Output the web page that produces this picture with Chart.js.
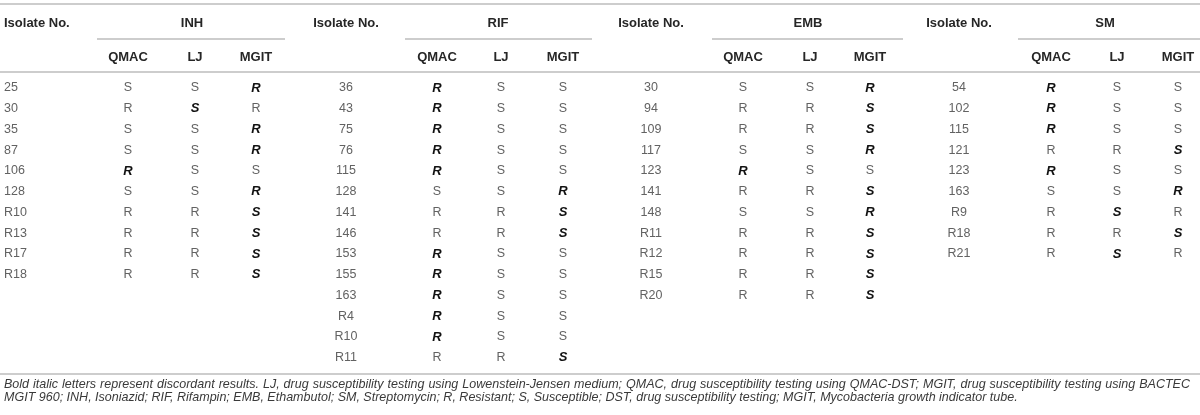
<!DOCTYPE html>
<html>
<head>
<meta charset="utf-8">
<title>Discordant DST results</title>
<script src="https://cdn.jsdelivr.net/npm/chart.js@4.4.1/dist/chart.umd.min.js"></script>
<style>
  html, body { margin: 0; padding: 0; background: #fff; }
  canvas { display: block; }
</style>
</head>
<body>
<canvas id="tbl" width="1200" height="415"></canvas>
<script>
// table values; a trailing * marks a discordant result (bold italic)
const drugs = ['INH', 'RIF', 'EMB', 'SM'];
const methods = ['QMAC', 'LJ', 'MGIT'];

const inhIsolates = ['25', '30', '35', '87', '106', '128', 'R10', 'R13', 'R17', 'R18'];
const inhQMAC = ['S', 'R', 'S', 'S', 'R*', 'S', 'R', 'R', 'R', 'R'];
const inhLJ   = ['S', 'S*', 'S', 'S', 'S', 'S', 'R', 'R', 'R', 'R'];
const inhMGIT = ['R*', 'R', 'R*', 'R*', 'S', 'R*', 'S*', 'S*', 'S*', 'S*'];

const rifIsolates = ['36', '43', '75', '76', '115', '128', '141', '146', '153', '155', '163', 'R4', 'R10', 'R11'];
const rifQMAC = ['R*', 'R*', 'R*', 'R*', 'R*', 'S', 'R', 'R', 'R*', 'R*', 'R*', 'R*', 'R*', 'R'];
const rifLJ   = ['S', 'S', 'S', 'S', 'S', 'S', 'R', 'R', 'S', 'S', 'S', 'S', 'S', 'R'];
const rifMGIT = ['S', 'S', 'S', 'S', 'S', 'R*', 'S*', 'S*', 'S', 'S', 'S', 'S', 'S', 'S*'];

const embIsolates = ['30', '94', '109', '117', '123', '141', '148', 'R11', 'R12', 'R15', 'R20'];
const embQMAC = ['S', 'R', 'R', 'S', 'R*', 'R', 'S', 'R', 'R', 'R', 'R'];
const embLJ   = ['S', 'R', 'R', 'S', 'S', 'R', 'S', 'R', 'R', 'R', 'R'];
const embMGIT = ['R*', 'S*', 'S*', 'R*', 'S', 'S*', 'R*', 'S*', 'S*', 'S*', 'S*'];

const smIsolates = ['54', '102', '115', '121', '123', '163', 'R9', 'R18', 'R21'];
const smQMAC = ['R*', 'R*', 'R*', 'R', 'R*', 'S', 'R', 'R', 'R'];
const smLJ   = ['S', 'S', 'S', 'R', 'S', 'S', 'S*', 'R', 'S*'];
const smMGIT = ['S', 'S', 'S', 'S*', 'S', 'R*', 'R', 'S*', 'R'];

const footnote = [
  'Bold italic letters represent discordant results. LJ, drug susceptibility testing using Lowenstein-Jensen medium; QMAC, drug susceptibility testing using QMAC-DST; MGIT, drug susceptibility testing using BACTEC',
  'MGIT 960; INH, Isoniazid; RIF, Rifampin; EMB, Ethambutol; SM, Streptomycin; R, Resistant; S, Susceptible; DST, drug susceptibility testing; MGIT, Mycobacteria growth indicator tube.'
];

// layout (pixels)
const W = 1200, H = 415;
const ROW0 = 88, ROW_H = 20.75;
const isoX = [4, 346, 651, 959];
const testX = [[128, 195, 256], [437, 501, 563], [743, 810, 870], [1051, 1117, 1178]];
const groupX = [192, 498, 808, 1105];
const lineSpan = [[97, 285], [405, 592], [712, 903], [1018, 1200]];
const HEAD1_Y = 23, HEAD2_Y = 57, SPAN_Y = 39;
const RULES_Y = [4, 72, 374];
const NOTE_Y = [385, 398];
const NOTE_X = 4, NOTE_END = 1190, NOTE2_END = 1018;
const FONT = '"Liberation Sans", Arial, Helvetica, sans-serif';

const rowOf = px => (px - ROW0) / ROW_H;

const groups = [
  [inhIsolates, inhQMAC, inhLJ, inhMGIT],
  [rifIsolates, rifQMAC, rifLJ, rifMGIT],
  [embIsolates, embQMAC, embLJ, embMGIT],
  [smIsolates, smQMAC, smLJ, smMGIT]
];

function col(values, x, kind, align) {
  return {
    data: values.map((v, i) => ({ x, y: i })),
    labels: values, kind, align: align || 'center',
    pointRadius: 0, pointHoverRadius: 0, showLine: false
  };
}

const datasets = [];
groups.forEach((g, gi) => {
  const align = gi === 0 ? 'left' : 'center';
  datasets.push(col(g[0], isoX[gi], 'cell', align));
  for (let m = 0; m < 3; m++) datasets.push(col(g[m + 1], testX[gi][m], 'cell'));
  // header cells, placed on the same scales
  datasets.push({ data: [{ x: isoX[gi], y: rowOf(HEAD1_Y) }], labels: ['Isolate No.'], kind: 'head', align, pointRadius: 0 });
  datasets.push({ data: [{ x: groupX[gi], y: rowOf(HEAD1_Y) }], labels: [drugs[gi]], kind: 'head', align: 'center', pointRadius: 0 });
  datasets.push({
    data: methods.map((m, k) => ({ x: testX[gi][k], y: rowOf(HEAD2_Y) })),
    labels: methods, kind: 'head', align: 'center', pointRadius: 0
  });
});

// draw a line of text stretched (word spacing) to end at x1
function justify(ctx, text, x0, x1, y) {
  const words = text.split(' ');
  const total = words.reduce((a, w) => a + ctx.measureText(w).width, 0);
  const gap = (x1 - x0 - total) / (words.length - 1);
  let x = x0;
  words.forEach(w => { ctx.fillText(w, x, y); x += ctx.measureText(w).width + gap; });
}

const tablePlugin = {
  id: 'tableText',
  beforeDatasetsDraw(chart) {
    const ctx = chart.ctx, xs = chart.scales.x, ys = chart.scales.y;
    ctx.save();
    ctx.strokeStyle = '#bdbdbd';
    ctx.lineWidth = 1.3;
    RULES_Y.forEach(py => {
      const y = ys.getPixelForValue(rowOf(py));
      ctx.beginPath(); ctx.moveTo(xs.getPixelForValue(0), y); ctx.lineTo(xs.getPixelForValue(W), y); ctx.stroke();
    });
    lineSpan.forEach(s => {
      const y = ys.getPixelForValue(rowOf(SPAN_Y));
      ctx.beginPath(); ctx.moveTo(xs.getPixelForValue(s[0]), y); ctx.lineTo(xs.getPixelForValue(s[1]), y); ctx.stroke();
    });
    ctx.restore();
  },
  afterDatasetsDraw(chart) {
    const ctx = chart.ctx, xs = chart.scales.x, ys = chart.scales.y;
    ctx.save();
    ctx.textBaseline = 'middle';
    chart.data.datasets.forEach((ds, i) => {
      const meta = chart.getDatasetMeta(i);
      ctx.textAlign = ds.align;
      meta.data.forEach((pt, j) => {
        let txt = ds.labels[j];
        if (ds.kind === 'head') {
          ctx.font = 'bold 13px ' + FONT;
          ctx.fillStyle = '#262626';
        } else if (txt.endsWith('*')) {
          txt = txt.slice(0, -1);
          ctx.font = 'italic bold 13px ' + FONT;
          ctx.fillStyle = '#111';
        } else {
          ctx.font = '12.5px ' + FONT;
          ctx.fillStyle = '#626262';
        }
        ctx.fillText(txt, pt.x, pt.y);
      });
    });
    // footnote: size from the last line, first line justified
    ctx.textAlign = 'left';
    ctx.font = 'italic 12px ' + FONT;
    const size = 12 * (NOTE2_END - NOTE_X) / ctx.measureText(footnote[1]).width;
    ctx.font = 'italic ' + size.toFixed(2) + 'px ' + FONT;
    ctx.fillStyle = '#3a3a3a';
    const x0 = xs.getPixelForValue(NOTE_X);
    justify(ctx, footnote[0], x0, xs.getPixelForValue(NOTE_END), ys.getPixelForValue(rowOf(NOTE_Y[0])));
    ctx.fillText(footnote[1], x0, ys.getPixelForValue(rowOf(NOTE_Y[1])));
    ctx.restore();
  }
};

new Chart(document.getElementById('tbl'), {
  type: 'scatter',
  data: { datasets },
  options: {
    responsive: false,
    animation: false,
    events: [],
    layout: { padding: 0 },
    plugins: { legend: { display: false }, tooltip: { enabled: false } },
    scales: {
      x: { type: 'linear', min: 0, max: W, display: false },
      y: { type: 'linear', min: rowOf(0), max: rowOf(H), reverse: true, display: false }
    }
  },
  plugins: [tablePlugin]
});
</script>
</body>
</html>
